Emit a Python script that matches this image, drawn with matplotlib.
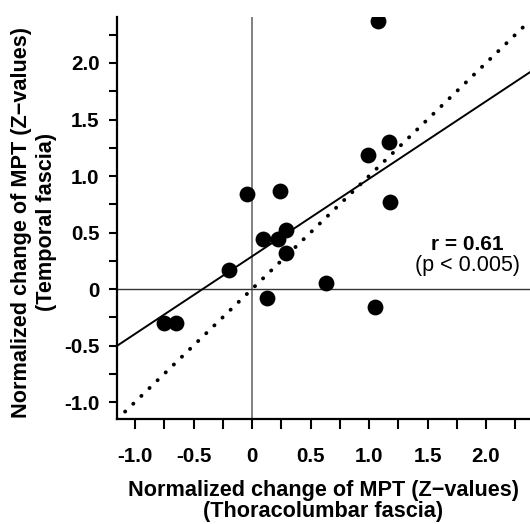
import matplotlib
matplotlib.use("Agg")
import matplotlib.pyplot as plt
import numpy as np

plt.rcParams['font.family'] = ['Liberation Sans', 'DejaVu Sans']

# Data (normalized change of MPT, Z-values)
thoracolumbar = [1.08, 1.17, 0.99, 1.18, 0.24, -0.04, 0.09, 0.22, 0.29, 0.29,
                 -0.20, -0.75, -0.65, 0.13, 0.63, 1.05]
temporal = [2.37, 1.30, 1.19, 0.77, 0.87, 0.84, 0.44, 0.44, 0.52, 0.32,
            0.17, -0.30, -0.30, -0.08, 0.05, -0.16]

fit_slope = 0.686
fit_intercept = 0.289
r_text = "r = 0.61"
p_text = "(p < 0.005)"

tick_values = [-1.0, -0.5, 0, 0.5, 1.0, 1.5, 2.0]
tick_labels = ["-1.0", "-0.5", "0", "0.5", "1.0", "1.5", "2.0"]
minor_values = [-1.0, -0.75, -0.5, -0.25, 0, 0.25, 0.5, 0.75, 1.0, 1.25, 1.5, 1.75, 2.0, 2.25]

xlim = (-1.154, 2.376)
ylim = (-1.150, 2.407)

fig = plt.figure(figsize=(5.30, 5.24), dpi=100)
ax = fig.add_axes([117/530, 105/524, 413/530, 402/524])
ax.set_xlim(*xlim)
ax.set_ylim(*ylim)

# reference lines through origin
ax.axvline(0, color='#777777', lw=1.3, zorder=1)
ax.axhline(0, color='#333333', lw=1.0, zorder=1)

# identity line (dotted)
xs = np.array(xlim)
ax.plot(xs, xs, color='black', lw=2.8, linestyle=(0, (0.05, 2.85)),
        dash_capstyle='round', zorder=2)
# regression line
ax.plot(xs, fit_intercept + fit_slope * xs, color='black', lw=1.4, zorder=2)

ax.scatter(thoracolumbar, temporal, s=130, color='black', zorder=3, linewidths=0)

for side in ['top', 'right']:
    ax.spines[side].set_visible(False)
for side in ['left', 'bottom']:
    ax.spines[side].set_linewidth(1.6)

ax.set_xticks(minor_values)
ax.set_xticklabels([tick_labels[tick_values.index(v)] if v in tick_values else "" for v in minor_values])
ax.set_yticks(minor_values)
ax.set_yticklabels([tick_labels[tick_values.index(v)] if v in tick_values else "" for v in minor_values])
ax.tick_params(axis='x', length=7, width=1.5, pad=13, labelsize=14.8)
ax.tick_params(axis='y', length=5.5, width=1.5, pad=7, labelsize=14.8)
for lab in ax.get_xticklabels() + ax.get_yticklabels():
    lab.set_fontweight('bold')

ax.text(1.84, 0.39, r_text, ha='center', va='center', fontsize=15, fontweight='bold')
ax.text(1.84, 0.205, p_text, ha='center', va='center', fontsize=15.5)

fig.text(323/530, 1 - 501/524,
         "Normalized change of MPT (Z\u2212values)\n(Thoracolumbar fascia)",
         ha='center', va='center', multialignment='center', fontsize=15.6,
         fontweight='bold', linespacing=1.0)
fig.text(34/530, 1 - 222/524,
         "Normalized change of MPT (Z\u2212values)\n(Temporal fascia)",
         ha='center', va='center', multialignment='center', fontsize=15.6,
         fontweight='bold', rotation=90, linespacing=1.2)

fig.savefig("out.png", dpi=100)
